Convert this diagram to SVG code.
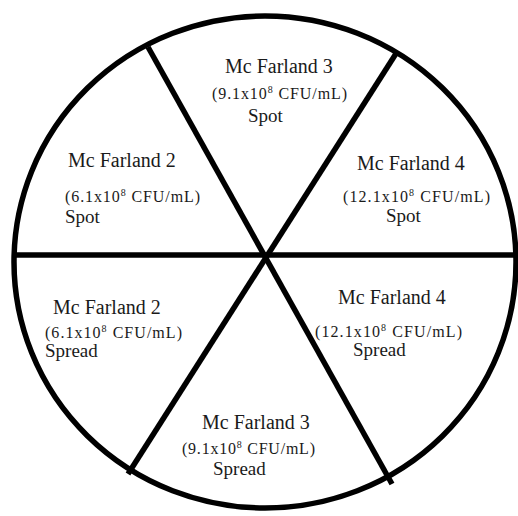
<svg xmlns="http://www.w3.org/2000/svg" width="518" height="516" viewBox="0 0 518 516">
<style>
.ln{stroke:#000;stroke-width:5.5;fill:none;stroke-linecap:butt}
text{font-family:'Liberation Serif','Times New Roman',serif;fill:#1a1a1a}
.t1{font-size:20px}
.t2{font-size:16px}
.t3{font-size:19px}
.sup{font-size:10px}
</style>
<rect width="518" height="516" fill="#fff"/>
<g id="plate">
<ellipse class="ln" cx="265" cy="262" rx="251" ry="246"/>
</g>
<g id="dividers">
<line class="ln" x1="14" y1="255" x2="516" y2="255"/>
<line class="ln" x1="148" y1="47" x2="392" y2="484"/>
<line class="ln" x1="397" y1="52" x2="128" y2="474"/>
</g>
<g id="sector-top">
<text class="t1" x="225" y="73">Mc Farland 3</text>
<text class="t2" x="212" y="99" textLength="135">(9.1x10<tspan class="sup" dy="-6">8</tspan><tspan dy="6"> CFU/mL)</tspan></text>
<text class="t3" x="248" y="122">Spot</text>
</g>
<g id="sector-upper-left">
<text class="t1" x="68" y="167">Mc Farland 2</text>
<text class="t2" x="65" y="202" textLength="135">(6.1x10<tspan class="sup" dy="-6">8</tspan><tspan dy="6"> CFU/mL)</tspan></text>
<text class="t3" x="65" y="223">Spot</text>
</g>
<g id="sector-upper-right">
<text class="t1" x="357" y="170">Mc Farland 4</text>
<text class="t2" x="343" y="202" textLength="147">(12.1x10<tspan class="sup" dy="-6">8</tspan><tspan dy="6"> CFU/mL)</tspan></text>
<text class="t3" x="386" y="222">Spot</text>
</g>
<g id="sector-lower-left">
<text class="t1" x="53" y="314">Mc Farland 2</text>
<text class="t2" x="45" y="338" textLength="137">(6.1x10<tspan class="sup" dy="-6">8</tspan><tspan dy="6"> CFU/mL)</tspan></text>
<text class="t3" x="45" y="357">Spread</text>
</g>
<g id="sector-lower-right">
<text class="t1" x="338" y="304">Mc Farland 4</text>
<text class="t2" x="315" y="337" textLength="147">(12.1x10<tspan class="sup" dy="-6">8</tspan><tspan dy="6"> CFU/mL)</tspan></text>
<text class="t3" x="353" y="356">Spread</text>
</g>
<g id="sector-bottom">
<text class="t1" x="202" y="429">Mc Farland 3</text>
<text class="t2" x="182" y="454" textLength="133">(9.1x10<tspan class="sup" dy="-6">8</tspan><tspan dy="6"> CFU/mL)</tspan></text>
<text class="t3" x="213" y="475">Spread</text>
</g>
</svg>
